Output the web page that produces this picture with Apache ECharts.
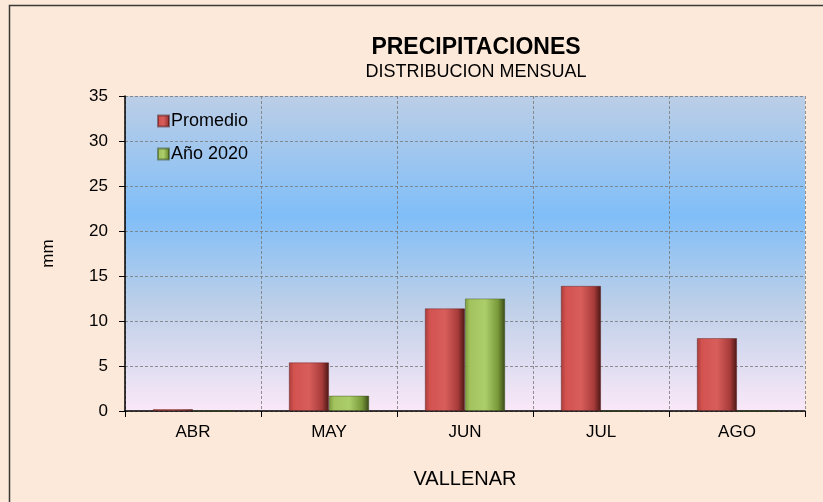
<!DOCTYPE html>
<html>
<head>
<meta charset="utf-8">
<script src="https://cdn.jsdelivr.net/npm/echarts@6/dist/echarts.min.js"></script>
<style>
  html, body { margin: 0; padding: 0; background: #fde9d9; }
  #chart { width: 823px; height: 502px; }
</style>
</head>
<body>
<div id="chart"></div>
<script>
(function () {
    'use strict';

    var meses = ['ABR', 'MAY', 'JUN', 'JUL', 'AGO'];
    var promedio = [0.2, 5.4, 11.4, 13.9, 8.1];
    var anio2020 = [0, 1.7, 12.5, 0, 0];
    var yTicks = { min: 0, max: 35, interval: 5 };

    // horizontal gradient to fake the bevelled bars
    function bevel(edge, light, mid, dark) {
        return new echarts.graphic.LinearGradient(0, 0, 1, 0, [
            { offset: 0, color: edge },
            { offset: 0.12, color: light },
            { offset: 0.5, color: mid },
            { offset: 0.82, color: edge },
            { offset: 1, color: dark }
        ]);
    }

    var myChart = echarts.init(document.getElementById('chart'));
    myChart.setOption({
        backgroundColor: '#fde9d9',
        animation: false,
        textStyle: { fontFamily: 'Liberation Sans, Arial, sans-serif', color: '#000' },
        title: {
            text: 'PRECIPITACIONES',
            subtext: 'DISTRIBUCION MENSUAL',
            left: 471,
            textAlign: 'center',
            top: 31,
            itemGap: 4,
            textStyle: { fontSize: 23, fontWeight: 'bold', color: '#000' },
            subtextStyle: { fontSize: 18, color: '#000' }
        },
        graphic: [{
            type: 'rect',
            shape: { x: 9.5, y: 5.5, width: 900, height: 600 },
            style: { fill: 'none', stroke: '#3a3a3a', lineWidth: 1.5 },
            silent: true
        }],
        legend: {
            orient: 'vertical',
            left: 152,
            top: 107,
            itemWidth: 11,
            itemHeight: 11,
            itemGap: 15,
            icon: 'rect',
            textStyle: { fontSize: 18, color: '#000', padding: [0, 0, 0, -3] },
            data: ['Promedio', 'Año 2020']
        },
        grid: {
            left: 125,
            right: 18,
            top: 96,
            bottom: 91,
            show: true,
            borderWidth: 0,
            backgroundColor: new echarts.graphic.LinearGradient(0, 0, 0, 1, [
                { offset: 0, color: '#bccee6' },
                { offset: 0.38, color: '#80bef8' },
                { offset: 0.66, color: '#bccfe8' },
                { offset: 1, color: '#fae8f8' }
            ])
        },
        xAxis: {
            type: 'category',
            data: meses,
            name: 'VALLENAR',
            nameLocation: 'middle',
            nameGap: 58,
            nameTextStyle: { fontSize: 20, color: '#000' },
            axisLine: { lineStyle: { color: '#000', width: 1.5 } },
            axisTick: { show: true, length: 6, lineStyle: { color: '#000' } },
            axisLabel: { fontSize: 17, color: '#000', margin: 13 },
            splitLine: { show: true, lineStyle: { color: '#777', type: [3, 2], width: 0.8 } }
        },
        yAxis: {
            type: 'value',
            min: yTicks.min,
            max: yTicks.max,
            interval: yTicks.interval,
            name: 'mm',
            nameLocation: 'middle',
            nameGap: 68,
            nameRotate: 90,
            nameTextStyle: { fontSize: 17, color: '#000' },
            axisLine: { show: true, lineStyle: { color: '#000', width: 1.5 } },
            axisTick: { show: true, length: 6, lineStyle: { color: '#000' } },
            axisLabel: { fontSize: 17, color: '#000', margin: 17 },
            splitLine: { show: true, lineStyle: { color: '#777', type: [3, 2], width: 0.8 } }
        },
        series: [
            {
                name: 'Promedio',
                type: 'bar',
                data: promedio,
                barGap: '0%',
                barCategoryGap: '41%',
                itemStyle: {
                    color: bevel('#a83c3a', '#d2524f', '#d85e5b', '#4a1513'),
                    borderColor: 'rgba(80,20,20,0.5)',
                    borderWidth: 0.8
                }
            },
            {
                name: 'Año 2020',
                type: 'bar',
                data: anio2020,
                itemStyle: {
                    color: bevel('#7a9a3a', '#a2c25e', '#acce6a', '#384816'),
                    borderColor: 'rgba(50,70,20,0.5)',
                    borderWidth: 0.8
                }
            }
        ]
    });
})();
</script>
</body>
</html>
